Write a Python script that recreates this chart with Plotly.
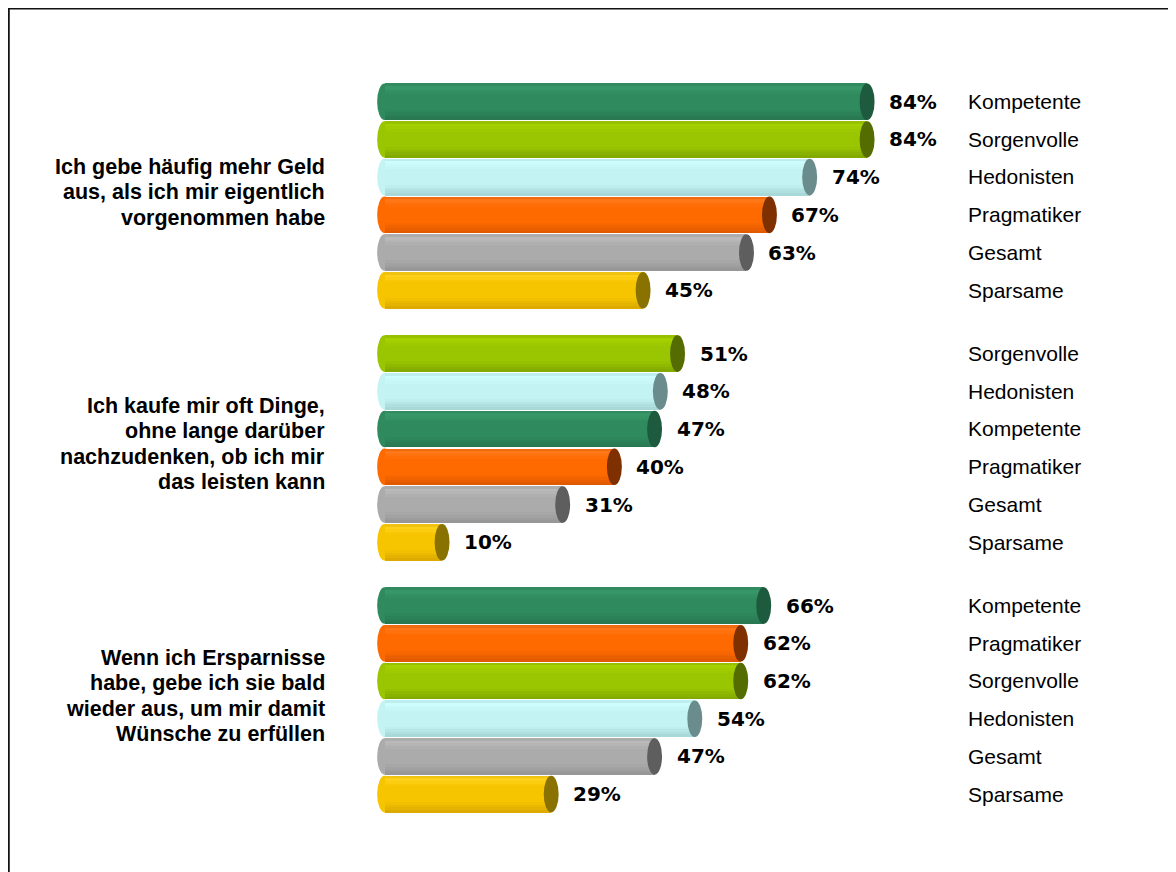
import plotly.graph_objects as go

# ---------------- data ----------------
questions = [
    ["Ich gebe häufig mehr Geld", "aus, als ich mir eigentlich", "vorgenommen habe"],
    ["Ich kaufe mir oft Dinge,", "ohne lange darüber", "nachzudenken, ob ich mir", "das leisten kann"],
    ["Wenn ich Ersparnisse", "habe, gebe ich sie bald", "wieder aus, um mir damit", "Wünsche zu erfüllen"],
]
series = ["Kompetente", "Pragmatiker", "Sorgenvolle", "Hedonisten", "Gesamt", "Sparsame"]
kompetente = [84, 47, 66]
pragmatiker = [67, 40, 62]
sorgenvolle = [84, 51, 62]
hedonisten = [74, 48, 54]
gesamt = [63, 31, 47]
sparsame = [45, 10, 29]
values = [kompetente, pragmatiker, sorgenvolle, hedonisten, gesamt, sparsame]

# ---------------- styles ----------------
palette = {
    "Kompetente":  ("#3A9A6B", "#2F8B5D", "#277550", "#1E5A3E"),
    "Pragmatiker": ("#FF7A1C", "#FF6A00", "#DD5800", "#7E3000"),
    "Sorgenvolle": ("#A8D400", "#99C600", "#7FA600", "#556C00"),
    "Hedonisten":  ("#D0FFFF", "#C4F3F3", "#A4D4D4", "#6A8C8C"),
    "Gesamt":      ("#BEBEBE", "#ABABAB", "#949494", "#5E5E5E"),
    "Sparsame":    ("#FFD31F", "#F6C500", "#DAA800", "#8A7200"),
}

def hx(c):
    return [int(c[i:i + 2], 16) for i in (1, 3, 5)]

def mix(a, b, t):
    a, b = hx(a), hx(b)
    return "#%02x%02x%02x" % tuple(round(a[i] + (b[i] - a[i]) * t) for i in range(3))

def band_color(name, t):
    light, base, dark, _ = palette[name]
    if t < 0.06:
        return mix(dark, light, t / 0.06)
    if t < 0.3:
        return mix(light, base, (t - 0.06) / 0.24)
    if t < 0.7:
        return base
    return mix(base, dark, (t - 0.7) / 0.3)

GROUP_STEP = 6.68
BAR_W = 0.97
NBANDS = 14
CAP_HALF = 1.3

# row positions: within each question, sorted descending (stable on series order)
positions = [[0.0] * 3 for _ in series]
for q in range(len(questions)):
    order = sorted(range(len(series)), key=lambda s: -values[s][q])
    for rank, s in enumerate(order):
        positions[s][q] = q * GROUP_STEP + rank

fig = go.Figure()
shapes = []
annotations = []

for s, name in enumerate(series):
    xs = values[s]
    ys = positions[s]
    h = BAR_W / NBANDS
    for k in range(NBANDS):
        t = (k + 0.5) / NBANDS
        fig.add_trace(go.Bar(
            x=xs, y=ys, orientation="h",
            width=h * 1.04, offset=-BAR_W / 2 + k * h,
            marker=dict(color=band_color(name, t), line=dict(width=0)),
            showlegend=False, hoverinfo="skip",
        ))
    for v, p in zip(xs, ys):
        # rounded left end
        shapes.append(dict(type="circle", xref="x", yref="y", layer="below",
                           x0=-CAP_HALF, x1=CAP_HALF, y0=p - BAR_W / 2, y1=p + BAR_W / 2,
                           fillcolor=palette[name][1], line=dict(width=0)))
        # dark cap on the right end
        shapes.append(dict(type="circle", xref="x", yref="y", layer="above",
                           x0=v - CAP_HALF, x1=v + CAP_HALF, y0=p - BAR_W / 2, y1=p + BAR_W / 2,
                           fillcolor=palette[name][3], line=dict(width=0)))
        annotations.append(dict(x=v, y=p, xref="x", yref="y", text=f"<b>{v}%</b>",
                                showarrow=False, xanchor="left", yanchor="middle", xshift=20,
                                font=dict(family="DejaVu Sans", size=20, color="#000000")))

# page body adds an 8px offset; figure coordinates are screen minus 8
W, H = 1168, 864
L, R_EDGE = 368, 951
T, B_EDGE = 56.3, 847.8
PW = R_EDGE - L
PH = B_EDGE - T

for q, lines in enumerate(questions):
    center = q * GROUP_STEP + 2.5
    n = len(lines)
    for i, line in enumerate(lines):
        annotations.append(dict(x=(319 - L) / PW, xref="paper", y=center, yref="y",
                                text=f"<b>{line}</b>", showarrow=False,
                                xanchor="right", yanchor="middle",
                                yshift=-(i - (n - 1) / 2) * 25.5 + 4,
                                font=dict(family="Liberation Sans", size=21.5, color="#000000")))

# outer frame
shapes.append(dict(type="rect", xref="paper", yref="paper",
                   x0=(0.5 - L) / PW, x1=2.0, y0=-1.0, y1=1 + (T - 0.5) / PH,
                   line=dict(color="#111111", width=2.5), fillcolor="rgba(0,0,0,0)", layer="above"))

tick_vals = [positions[s][q] for q in range(3) for s in range(len(series))]
tick_text = [series[s] for q in range(3) for s in range(len(series))]

fig.update_layout(
    width=W, height=H,
    margin=dict(l=L, r=W - R_EDGE, t=T, b=H - B_EDGE),
    paper_bgcolor="white", plot_bgcolor="white",
    barmode="overlay", bargap=0,
    shapes=shapes, annotations=annotations,
    xaxis=dict(range=[-1.5, 100], visible=False, fixedrange=True),
    yaxis=dict(range=[20.0, -1.0], side="right", tickmode="array",
               tickvals=tick_vals, ticktext=tick_text, ticks="",
               showgrid=False, zeroline=False, showline=False,
               ticklabelstandoff=8,
               tickfont=dict(family="Liberation Sans", size=21, color="#000000")),
    font=dict(family="Liberation Sans"),
)

fig.write_html("out.html")
